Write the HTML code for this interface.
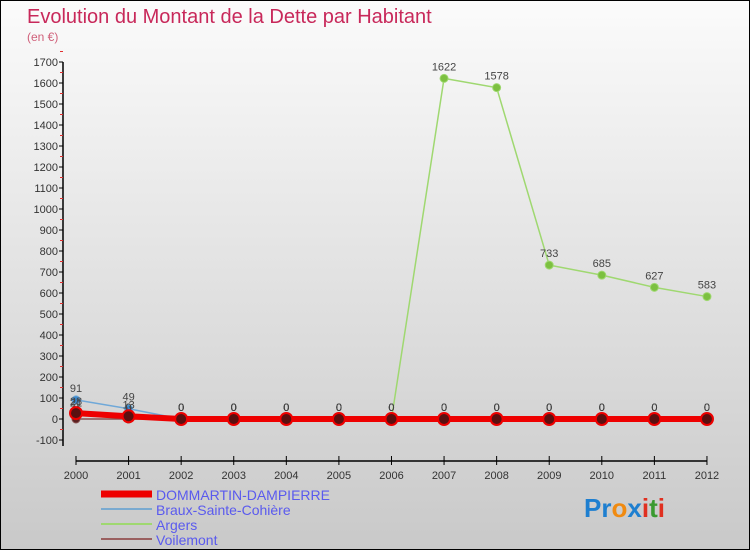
<!DOCTYPE html>
<html><head><meta charset="utf-8"><style>
body{margin:0}
#c{width:748px;height:548px;border:1px solid #000;background:linear-gradient(#fbfbfb,#c9c9c9);position:relative;font-family:"Liberation Sans",sans-serif}
</style></head><body>
<div id="c">
<svg id="s" width="748" height="548" style="position:absolute;left:0;top:0" font-family="Liberation Sans, sans-serif">
<text x="26" y="22" font-size="20" fill="#c8285a">Evolution du Montant de la Dette par Habitant</text>
<text x="26" y="40" font-size="12" fill="#d0607a">(en €)</text>
<g id="axes"></g><g id="series"></g><g id="legend"></g>
<text x="583" y="516" font-size="26" font-weight="bold"><tspan fill="#1e7fd0">Pr</tspan><tspan fill="#f08a10">o</tspan><tspan fill="#1e7fd0">x</tspan><tspan fill="#e03020">i</tspan><tspan fill="#3a9a30">t</tspan><tspan fill="#e03020">i</tspan></text>
</svg></div>
<script>
const years=[2000,2001,2002,2003,2004,2005,2006,2007,2008,2009,2010,2011,2012];
const yTicks=[-100,0,100,200,300,400,500,600,700,800,900,1000,1100,1200,1300,1400,1500,1600,1700];
const names=["DOMMARTIN-DAMPIERRE","Braux-Sainte-Cohière","Argers","Voilemont"];
const dommartin=[28,13,0,0,0,0,0,0,0,0,0,0,0];
const braux=[91,49,0,0,0,0,0,0,0,0,0,0,0];
const argers=[21,0,0,0,0,0,0,1622,1578,733,685,627,583];
const voilemont=[0,0,0,0,0,0,0,0,0,0,0,0,0];
const NS="http://www.w3.org/2000/svg";
const X=y=>75+(y-2000)*52.58, Y=v=>418-v*0.21;
function mk(t,a,p){const e=document.createElementNS(NS,t);for(const k in a)e.setAttribute(k,a[k]);p.appendChild(e);return e;}
const ax=document.getElementById('axes');
let e=mk('line',{x1:62,y1:61,x2:62,y2:445,stroke:'#000','stroke-width':1.5},ax);

e=mk('line',{x1:75,y1:460,x2:706,y2:460,stroke:'#000','stroke-width':1.5},ax);

yTicks.forEach(v=>{mk('line',{x1:58,x2:62,y1:Y(v),y2:Y(v),stroke:'#000'},ax);
 mk('line',{x1:59,x2:62,y1:Y(v+50),y2:Y(v+50),stroke:'#e03030'},ax);
 const t=mk('text',{x:57,y:Y(v)+4,'font-size':11,'text-anchor':'end',fill:'#333'},ax);t.textContent=v;
 });
years.forEach(y=>{mk('line',{x1:X(y),x2:X(y),y1:455,y2:464,stroke:'#000'},ax);
 const t=mk('text',{x:X(y),y:478,'font-size':11,'text-anchor':'middle',fill:'#333'},ax);t.textContent=y;
 });
const sg=document.getElementById('series');
const defs=[[braux,'#6fa8d8',1.5,'#3a8ad0',4,'braux'],[argers,'#9fd870',1.5,'#7cc040',4,'argers'],[voilemont,'#8a5050',1.5,'#5a2020',4,'voilemont'],[dommartin,'#ee0000',6,'#5a1010',6,'dommartin']];
defs.forEach(([d,c,w,pc,r,n])=>{
 const l=mk('polyline',{points:d.map((v,i)=>X(years[i])+','+Y(v)).join(' '),fill:'none',stroke:c,'stroke-width':w},sg);
 
 d.forEach((v,i)=>{const p=mk('circle',{cx:X(years[i]),cy:Y(v),r:r,fill:pc,stroke:n=='dommartin'?'#ee0000':c,'stroke-width':n=='dommartin'?2:1},sg);
  
  const t=mk('text',{x:X(years[i]),y:Y(v)-8,'font-size':11,'text-anchor':'middle',fill:'#444'},sg);t.textContent=v;
  });
});
const lg=document.getElementById('legend');
const lc=['#ee0000','#7aaad0','#9fd870','#9a6060'],lw=[7,2,2,2];
names.forEach((n,i)=>{const y=493+i*15;
 const s=mk('line',{x1:100,x2:151,y1:y,y2:y,stroke:lc[i],'stroke-width':lw[i]},lg);
 
 const t=mk('text',{x:155,y:y+6,'font-size':14,fill:'#5a5aee'},lg);t.textContent=n;
 });
</script>
</body></html>
